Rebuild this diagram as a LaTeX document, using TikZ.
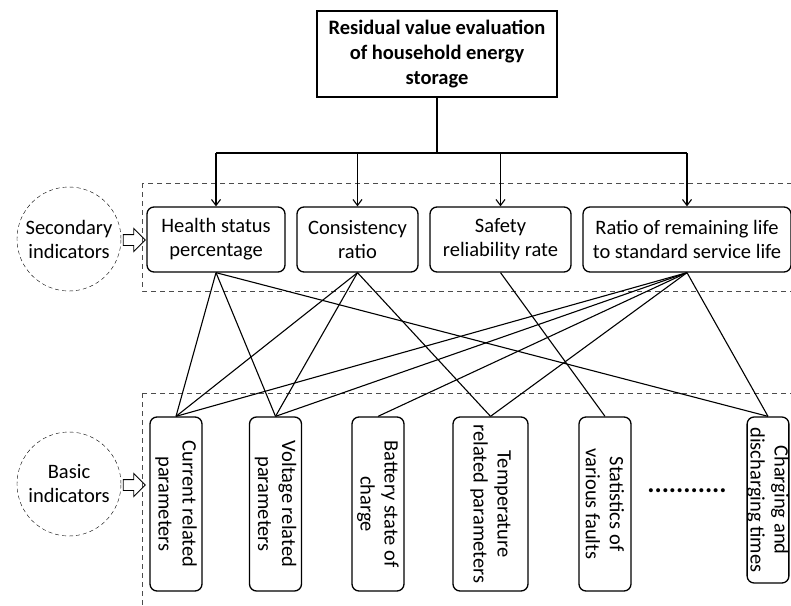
\documentclass[tikz,border=0pt]{standalone}
\usepackage{fontspec}
\setmainfont{Carlito}
\usetikzlibrary{arrows.meta,shapes.arrows}
\begin{document}
\begin{tikzpicture}[x=1pt, y=-1pt,
    every node/.style={font=\fontsize{20.5}{24}\selectfont},
    >={Straight Barb[length=6pt,width=9pt]},
    secbox/.style={draw, line width=1.3pt, rounded corners=7pt, align=center, minimum height=65pt, inner sep=2pt},
    basbox/.style={draw, line width=1.3pt, rounded corners=7pt, align=center, rotate=-90, minimum width=174pt, minimum height=52pt, inner sep=2pt},
    ring/.style={draw, circle, dash pattern=on 4pt off 3pt, minimum size=104pt, align=center, inner sep=0pt},
    band/.style={draw, gray!60!black, dash pattern=on 5pt off 4pt},
    hollow/.style={draw, line width=0.9pt, single arrow, single arrow head extend=6pt, minimum height=22pt, inner xsep=0pt, inner ysep=5pt},
    link/.style={line width=1.1pt}]
    \useasboundingbox (0,0) rectangle (791,605);
    % dashed bands
    \draw[band] (142,183) rectangle (800,291);
    \draw[band] (142,393) rectangle (800,615);
    % goal
    \node[draw, line width=1.3pt, minimum width=240pt, minimum height=86pt, align=center,
          font=\fontsize{20.5}{25}\selectfont\bfseries] (goal) at (437,54)
          {Residual value evaluation\\of household energy\\storage};
    % secondary indicators
    \node[secbox, minimum width=138pt] (hsp) at (216,239.5) {Health status\\percentage};
    \node[secbox, minimum width=121pt] (con) at (357.5,239.5) {Consistency\\ratio};
    \node[secbox, minimum width=141pt] (saf) at (500.5,239.5) {Safety\\reliability rate};
    \node[secbox, minimum width=208pt] (rat) at (687,239.5) {Ratio of remaining life\\to standard service life};
    % basic indicators (rotated, .west is the top side)
    \node[basbox] (cur) at (176,504) {Current related\\parameters};
    \node[basbox] (vol) at (275.5,504) {Voltage related\\parameters};
    \node[basbox] (bat) at (378,504) {Battery state of\\charge};
    \node[basbox, minimum height=75pt] (tem) at (490.5,504) {Temperature\\related parameters};
    \node[basbox] (sta) at (605,504) {Statistics of\\various faults};
    \node[basbox, minimum width=166pt, minimum height=0pt, inner ysep=0pt] (cha) at (768,500) {Charging and\\discharging times};
    \node[font=\fontsize{27}{27}\selectfont\bfseries] (dots) at (687,491) {...........};
    % side labels
    \node[ring] (secring) at (69,239) {Secondary\\indicators};
    \node[ring] (basring) at (69,484) {Basic\\indicators};
    \node[hollow] (secarr) at (131.5,240) {};
    \node[hollow] (basarr) at (131.5,485) {};
    % tree
    \coordinate (fork) at (437,153);
    \draw[link] (goal.south) -- (fork);
    \draw[link] (hsp.north |- fork) -- (rat.north |- fork);
    \foreach \n in {hsp,con,saf,rat}
        \draw[link, ->] (\n.north |- fork) -- (\n.north);
    % mesh
    \foreach \a/\b in {hsp/cur, hsp/vol, hsp/cha, con/cur, con/vol, con/tem, saf/sta,
                       rat/cur, rat/vol, rat/bat, rat/tem, rat/cha}
        \draw[link] (\a.south) -- (\b.west);
\end{tikzpicture}
\end{document}
